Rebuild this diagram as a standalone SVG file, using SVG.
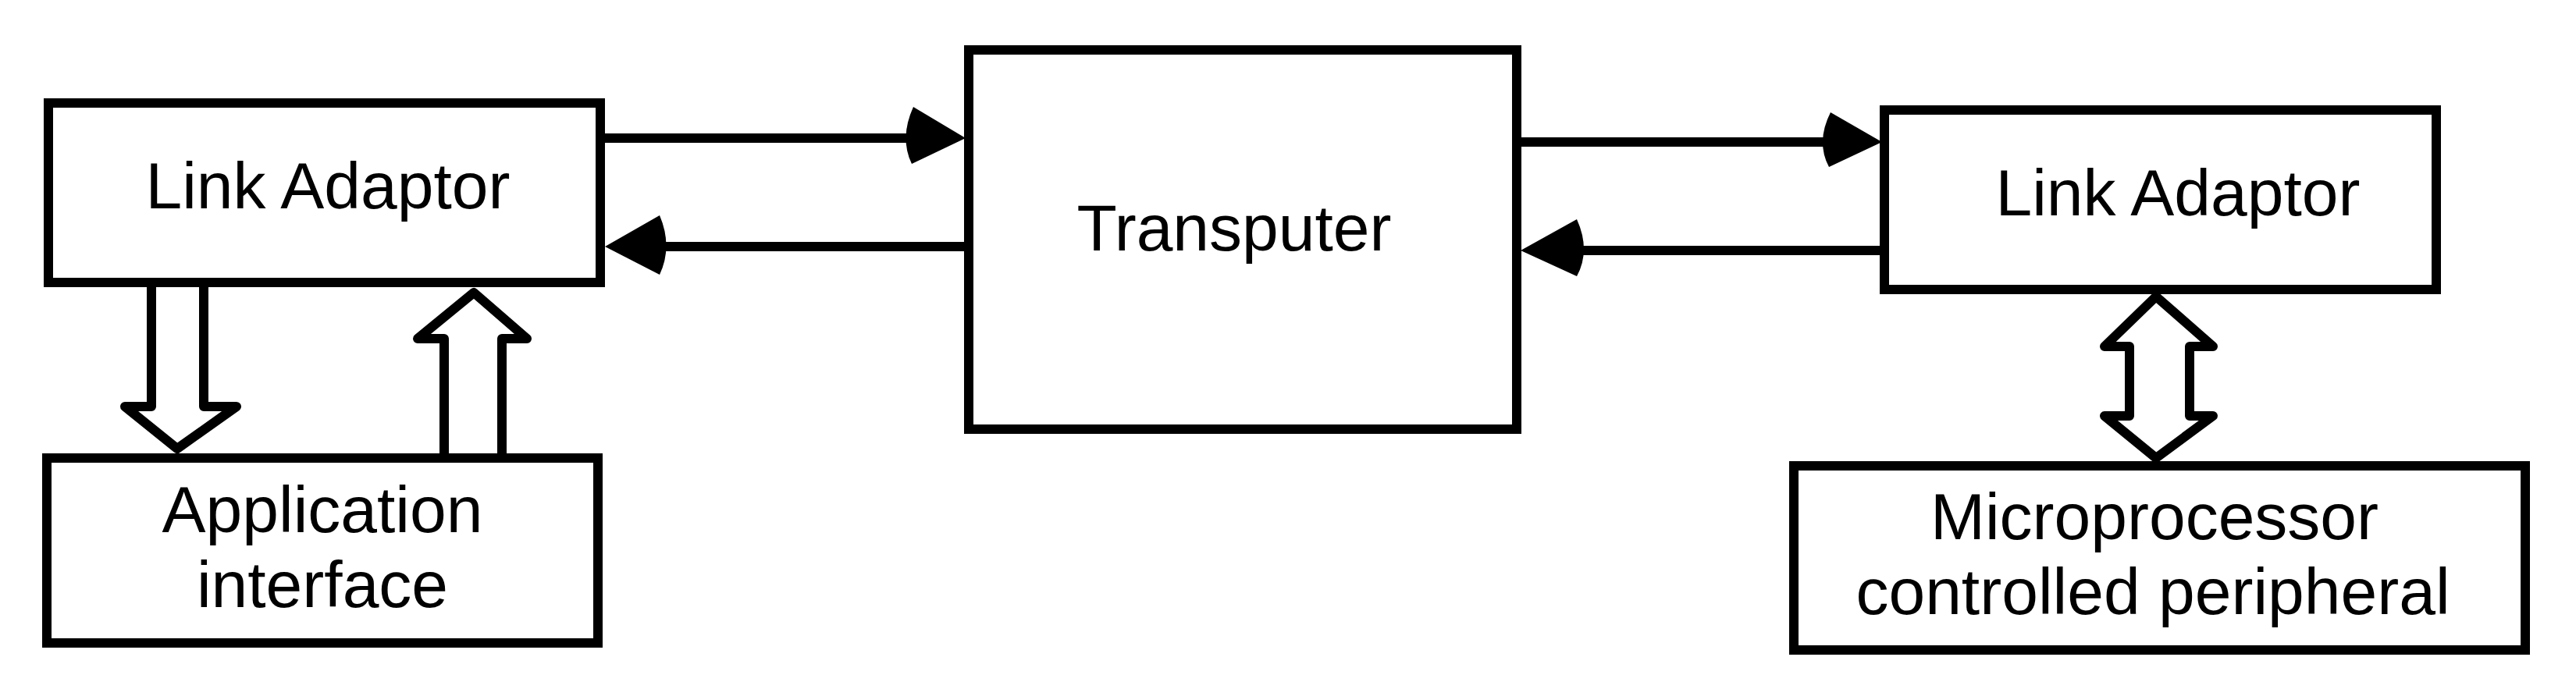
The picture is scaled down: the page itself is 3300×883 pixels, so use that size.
<svg xmlns="http://www.w3.org/2000/svg" width="3300" height="883" viewBox="0 0 3300 883">
<style>
.box{fill:#fff;stroke:#000;stroke-width:12}
.lbl{font-family:"Liberation Sans",Arial,sans-serif;font-size:84px;fill:#000;text-anchor:middle}
.ln{stroke:#000;stroke-width:12;fill:none}
.head{fill:#000;stroke:none}
.hollow{fill:#fff;stroke:#000;stroke-width:12;stroke-linejoin:round}
</style>
<rect width="3300" height="883" fill="#fff"/>
<g id="link-adaptor-left">
<rect class="box" x="62" y="132" width="707" height="230"/>
<text class="lbl" x="420" y="267">Link Adaptor</text>
</g>
<g id="application-interface">
<rect class="box" x="60" y="587" width="706" height="237"/>
<text class="lbl" x="413" y="682">Application</text>
<text class="lbl" x="413" y="778">interface</text>
</g>
<g id="transputer">
<rect class="box" x="1241" y="64" width="702" height="486"/>
<text class="lbl" x="1581" y="321">Transputer</text>
</g>
<g id="link-adaptor-right">
<rect class="box" x="2414" y="141" width="707" height="230"/>
<text class="lbl" x="2790" y="276">Link Adaptor</text>
</g>
<g id="microprocessor-peripheral">
<rect class="box" x="2298" y="597" width="937" height="236"/>
<text class="lbl" x="2760" y="691">Microprocessor</text>
<text class="lbl" x="2758" y="787">controlled peripheral</text>
</g>
<g id="connectors">
<line class="ln" x1="769" y1="177" x2="1170" y2="177"/>
<path class="head" d="M1237,177 L1170,137 Q1152,177 1168,210 Z"/>
<line class="ln" x1="1241" y1="316" x2="845" y2="316"/>
<path class="head" d="M775,316 L845,276 Q862,316 845,352 Z"/>
<line class="ln" x1="1943" y1="182" x2="2345" y2="182"/>
<path class="head" d="M2411,182 L2345,144 Q2326,182 2343,214 Z"/>
<line class="ln" x1="2414" y1="321" x2="2020" y2="321"/>
<path class="head" d="M1948,321 L2020,281 Q2038,321 2020,354 Z"/>
<polygon class="hollow" points="194,362 194,521 160,521 227,575 303,521 261,521 261,362"/>
<polygon class="hollow" points="569,587 569,434 535,434 607,375 675,434 643,434 643,587"/>
<polygon class="hollow" points="2762,380 2835,444 2805,444 2805,533 2835,533 2762,587 2696,533 2728,533 2728,444 2696,444"/>
</g>
</svg>
